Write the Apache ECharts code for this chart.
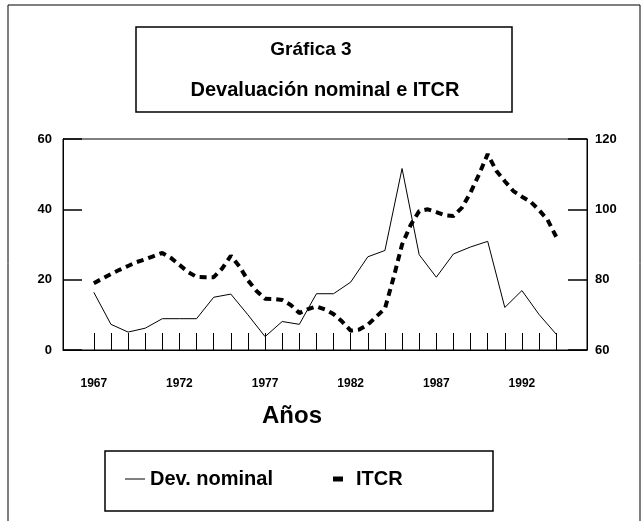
<!DOCTYPE html>
<html>
<head>
<meta charset="utf-8">
<script src="https://cdn.jsdelivr.net/npm/echarts@6/dist/echarts.min.js"></script>
<style>
  html, body { margin: 0; padding: 0; background: #fff; }
  #container { width: 643px; height: 521px; }
</style>
</head>
<body>
<div id="container"></div>
<script>
// años de la devaluación nominal (anual)
var devYears = [1967, 1968, 1969, 1970, 1971, 1972, 1973, 1974, 1975, 1976, 1977, 1978, 1979, 1980,
                1981, 1982, 1983, 1984, 1985, 1986, 1987, 1988, 1989, 1990, 1991, 1992, 1993, 1994];
var devNominal = [16.4, 7.3, 5.1, 6.2, 8.9, 8.9, 8.9, 15.0, 15.9, 10.0, 3.8, 8.1, 7.3, 16.0,
                  16.0, 19.3, 26.5, 28.3, 51.6, 27.1, 20.7, 27.3, 29.3, 30.9, 12.1, 16.9, 10.1, 4.5];

// ITCR semestral
var itcrYears = [1967, 1967.5, 1968, 1968.5, 1969, 1969.5, 1970, 1970.5, 1971, 1971.5, 1972, 1972.5,
                 1973, 1973.5, 1974, 1974.5, 1975, 1975.5, 1976, 1976.5, 1977, 1977.5, 1978, 1978.5,
                 1979, 1979.5, 1980, 1980.5, 1981, 1981.5, 1982, 1982.5, 1983, 1983.5, 1984, 1984.5,
                 1985, 1985.5, 1986, 1986.5, 1987, 1987.5, 1988, 1988.5, 1989, 1989.5, 1990, 1990.5,
                 1991, 1991.5, 1992, 1992.5, 1993, 1993.5, 1994];
var itcr = [79.0, 80.3, 81.6, 82.8, 83.9, 85.0, 85.8, 86.7, 87.6, 86.2, 84.2, 82.2,
            80.8, 80.7, 80.7, 83.2, 86.8, 83.8, 79.8, 76.8, 74.6, 74.5, 74.2, 72.8,
            70.5, 71.6, 72.4, 71.5, 70.2, 68.1, 65.5, 65.8, 67.2, 69.5, 71.8, 80.5,
            90.0, 95.5, 99.5, 100.0, 99.2, 98.3, 98.1, 100.5, 104.8, 110.0, 115.7, 111.0,
            108.0, 105.2, 103.6, 102.2, 99.8, 97.0, 92.2];

var yearLabels = [1967, 1972, 1977, 1982, 1987, 1992];

function pairs(xs, ys) {
  var out = [];
  for (var i = 0; i < xs.length; i++) out.push([xs[i], ys[i]]);
  return out;
}

var myChart = echarts.init(document.getElementById('container'));
var fam = 'Liberation Sans, Arial';
var labelFont = { color: '#000', fontWeight: 'bold', fontSize: 13, fontFamily: fam };

var option = {
  backgroundColor: '#fff',
  animation: false,
  title: [
    { text: 'Gráfica 3', left: 311, top: 40, padding: 0, textAlign: 'center',
      textStyle: { fontSize: 19, fontWeight: 'bold', color: '#000', fontFamily: fam } },
    { text: 'Devaluación nominal e ITCR', left: 325, top: 80, padding: 0, textAlign: 'center',
      textStyle: { fontSize: 20, fontWeight: 'bold', color: '#000', fontFamily: fam } }
  ],
  graphic: [
    { type: 'rect', shape: { x: 8, y: 5, width: 632, height: 540 }, style: { fill: 'none', stroke: '#000', lineWidth: 1 } },
    { type: 'rect', shape: { x: 136, y: 27, width: 376, height: 85 }, style: { fill: 'none', stroke: '#000', lineWidth: 1.5 } },
    { type: 'rect', shape: { x: 105, y: 451, width: 388, height: 60 }, style: { fill: 'none', stroke: '#000', lineWidth: 1.5 } }
  ],
  legend: [
    { data: ['Dev. nominal'], left: 125, top: 469, itemWidth: 20, itemHeight: 1, icon: 'rect', padding: 0,
      textStyle: { fontSize: 20, fontWeight: 'bold', color: '#000', fontFamily: fam } },
    { data: ['ITCR'], left: 333, top: 469, itemWidth: 10, itemHeight: 5, icon: 'rect', padding: 0,
      textStyle: { fontSize: 20, fontWeight: 'bold', color: '#000', fontFamily: fam, padding: [0, 0, 0, 8] } }
  ],
  grid: { left: 63, right: 56, top: 139, bottom: 171, show: true, borderColor: '#000', borderWidth: 1 },
  xAxis: {
    type: 'value',
    min: 1965.2,
    max: 1995.8,
    name: 'Años',
    nameLocation: 'middle',
    nameGap: 54,
    nameTextStyle: { fontSize: 24, fontWeight: 'bold', color: '#000', fontFamily: fam, padding: [0, 66, 0, 0] },
    splitLine: { show: false },
    axisLine: { lineStyle: { color: '#000', width: 1 } },
    axisTick: { inside: true, length: 17, customValues: devYears, lineStyle: { color: '#000', width: 1 } },
    axisLabel: {
      customValues: yearLabels, margin: 28,
      formatter: function (v) { return String(v); },
      color: '#000', fontWeight: 'bold', fontSize: 12, fontFamily: fam
    }
  },
  yAxis: [
    {
      type: 'value', min: 0, max: 60, interval: 20, position: 'left',
      splitLine: { show: false },
      axisLine: { show: true, lineStyle: { color: '#000' } },
      axisTick: { show: true, inside: true, length: 19, lineStyle: { color: '#000', width: 1.5 } },
      axisLabel: Object.assign({ margin: 11 }, labelFont)
    },
    {
      type: 'value', min: 60, max: 120, interval: 20, position: 'right',
      splitLine: { show: false },
      axisLine: { show: true, lineStyle: { color: '#000' } },
      axisTick: { show: true, inside: true, length: 19, lineStyle: { color: '#000', width: 1.5 } },
      axisLabel: Object.assign({ margin: 8 }, labelFont)
    }
  ],
  series: [
    {
      name: 'Dev. nominal',
      type: 'line',
      yAxisIndex: 0,
      symbol: 'none',
      itemStyle: { color: '#000' },
      lineStyle: { color: '#000', width: 1 },
      data: pairs(devYears, devNominal)
    },
    {
      name: 'ITCR',
      type: 'line',
      yAxisIndex: 1,
      symbol: 'none',
      itemStyle: { color: '#000' },
      lineStyle: { color: '#000', width: 4, type: [7, 5] },
      data: pairs(itcrYears, itcr)
    }
  ]
};

myChart.setOption(option);
window.onresize = myChart.resize;
</script>
</body>
</html>
